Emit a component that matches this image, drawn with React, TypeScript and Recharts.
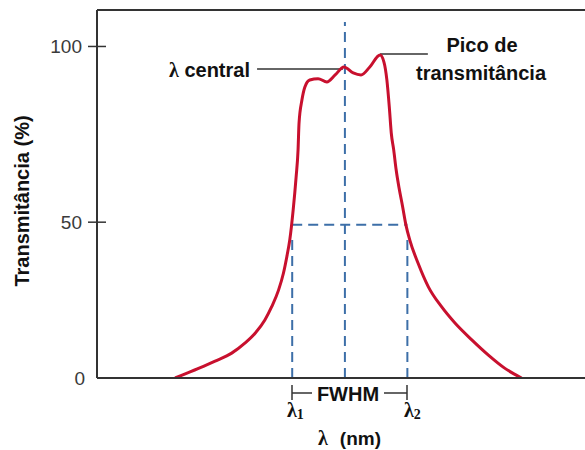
import { Line, LineChart, XAxis, YAxis } from 'recharts'

// Curva de transmitância de um filtro passa-banda (esquemática).
// x em unidades arbitrárias de λ, y em % de transmitância.
const curveLambda = [
  16.0, 20.8, 24.2, 27.6, 30.3, 32.4, 34.4, 35.8, 37.2, 38.2, 38.9, 39.5, 40.2, 40.8,
  41.2, 41.4, 42.0, 42.6, 43.6, 45.3, 47.1, 48.8, 50.6, 52.5, 54.1, 55.9, 58.0, 58.8,
  59.4, 59.9, 60.3, 60.8, 61.3, 61.9, 62.6, 63.3, 64.1, 65.8, 67.9, 70.6, 73.4, 76.8,
  80.2, 83.6, 87.0,
]
const curveT = [
  0, 2.9, 5.1, 7.5, 10.5, 13.5, 17.5, 21.5, 26.5, 31.6, 36.6, 41.6, 50.7, 60.6,
  68.8, 76.9, 83.9, 87.8, 89.9, 90.3, 89.3, 91.4, 93.8, 92.0, 91.4, 93.8, 97.4, 95.3,
  89.9, 81.7, 73.9, 68.8, 62.8, 57.3, 51.9, 46.2, 41.6, 34.6, 27.5, 21.5, 16.5, 11.5,
  6.9, 2.9, 0,
]

const lambda1 = 40.0
const lambdaCentral = 50.8
const lambda2 = 63.6
const halfMax = 46.2
const dropTop = 41.6
const centralTop = 107.4
const centralLeaderStart = 32.8
const centralLeaderEnd = 50.4
const centralLeaderT = 93.2
const peakLeaderStart = 58.0
const peakLeaderEnd = 67.8
const peakLeaderT = 97.7

const yTickValues = [0, 47, 100]
const yTickLabels = ['0', '50', '100']

const curve = curveLambda.map((x, i) => ({ x, y: curveT[i] }))
const seg = (x1: number, y1: number, x2: number, y2: number) => [{ x: x1, y: y1 }, { x: x2, y: y2 }]

const RED = '#c8102e'
const BLUE = '#3d6fa8'
const INK = '#333'
const SANS = '"Liberation Sans", Arial, sans-serif'
const SERIF = '"Liberation Serif", "Times New Roman", serif'

function YTick(props: any) {
  const { x, y, payload } = props
  const label = yTickLabels[yTickValues.indexOf(payload.value)] ?? ''
  return (
    <g>
      {payload.value !== 0 && <line x1={x - 9} x2={x + 9} y1={y} y2={y} stroke={INK} strokeWidth={1.5} />}
      <text x={payload.value === 0 ? x - 12 : x - 15} y={y} textAnchor="end" dominantBaseline="central" fontSize={19} fill="#3a3a3a" fontFamily={SANS}>
        {label}
      </text>
    </g>
  )
}

function Annotations() {
  const bold = { fontFamily: SANS, fontWeight: 700, fontSize: 20, fill: '#111' }
  return (
    <g>
      <text x={250} y={70} textAnchor="end" dominantBaseline="central" {...bold}>
        <tspan fontFamily={SERIF}>λ</tspan> central
      </text>
      <text x={482} y={45} textAnchor="middle" dominantBaseline="central" {...bold}>Pico de</text>
      <text x={481} y={73} textAnchor="middle" dominantBaseline="central" {...bold}>transmitância</text>
      <text transform="translate(22,201) rotate(-90)" textAnchor="middle" dominantBaseline="central" {...bold}>
        Transmitância (%)
      </text>
      <g stroke={INK} strokeWidth={1.5}>
        <line x1={292} x2={292} y1={385} y2={400} />
        <line x1={292} x2={312} y1={393} y2={393} />
        <line x1={384} x2={407} y1={393} y2={393} />
        <line x1={407} x2={407} y1={385} y2={400} />
      </g>
      <text x={348} y={394} textAnchor="middle" dominantBaseline="central" {...bold}>FWHM</text>
      <text x={287} y={417} fontFamily={SERIF} fontWeight={700} fontSize={20} fill="#111">
        λ<tspan fontSize={14} dy={2}>1</tspan>
      </text>
      <text x={404} y={417} fontFamily={SERIF} fontWeight={700} fontSize={20} fill="#111">
        λ<tspan fontSize={14} dy={2}>2</tspan>
      </text>
      <text x={318} y={445} {...bold} fontSize={19}>
        <tspan fontFamily={SERIF} fontSize={20}>λ</tspan>
        <tspan dx={12}>(nm)</tspan>
      </text>
    </g>
  )
}

export default function App() {
  return (
    <div style={{ position: 'absolute', left: 0, top: 0, background: '#fff' }}>
      <LineChart width={585} height={450} margin={{ top: 9, right: 0, bottom: 71, left: 0 }}>
        <XAxis
          xAxisId="b" type="number" dataKey="x" domain={[0, 100]} allowDataOverflow height={1}
          tick={false} tickLine={false} axisLine={{ stroke: INK, strokeWidth: 2 }}
        />
        <XAxis
          xAxisId="t" orientation="top" type="number" dataKey="x" domain={[0, 100]} allowDataOverflow height={1}
          tick={false} tickLine={false} axisLine={{ stroke: INK, strokeWidth: 2 }}
        />
        <YAxis
          type="number" domain={[0, 111]} allowDataOverflow width={97} ticks={yTickValues}
          tick={<YTick />} tickLine={false} tickSize={0} tickMargin={0}
          axisLine={{ stroke: INK, strokeWidth: 2 }}
        />

        {/* linhas de referência tracejadas */}
        <Line xAxisId="b" data={seg(lambda1, halfMax, lambda2, halfMax)} dataKey="y" stroke={BLUE} strokeWidth={2} strokeDasharray="10 6" dot={false} activeDot={false} isAnimationActive={false} />
        <Line xAxisId="b" data={seg(lambda1, 0, lambda1, dropTop)} dataKey="y" stroke={BLUE} strokeWidth={2} strokeDasharray="10 6" dot={false} activeDot={false} isAnimationActive={false} />
        <Line xAxisId="b" data={seg(lambda2, 0, lambda2, dropTop)} dataKey="y" stroke={BLUE} strokeWidth={2} strokeDasharray="10 6" dot={false} activeDot={false} isAnimationActive={false} />
        <Line xAxisId="b" data={seg(lambdaCentral, 0, lambdaCentral, centralTop)} dataKey="y" stroke={BLUE} strokeWidth={2} strokeDasharray="10 6" dot={false} activeDot={false} isAnimationActive={false} />

        {/* linhas de chamada */}
        <Line xAxisId="b" data={seg(centralLeaderStart, centralLeaderT, centralLeaderEnd, centralLeaderT)} dataKey="y" stroke={INK} strokeWidth={1.5} dot={false} activeDot={false} isAnimationActive={false} />
        <Line xAxisId="b" data={seg(peakLeaderStart, peakLeaderT, peakLeaderEnd, peakLeaderT)} dataKey="y" stroke={INK} strokeWidth={1.5} dot={false} activeDot={false} isAnimationActive={false} />

        <Line xAxisId="b" data={curve} dataKey="y" type="monotone" stroke={RED} strokeWidth={3} dot={false} activeDot={false} isAnimationActive={false} />

        <Annotations />
      </LineChart>
    </div>
  )
}
